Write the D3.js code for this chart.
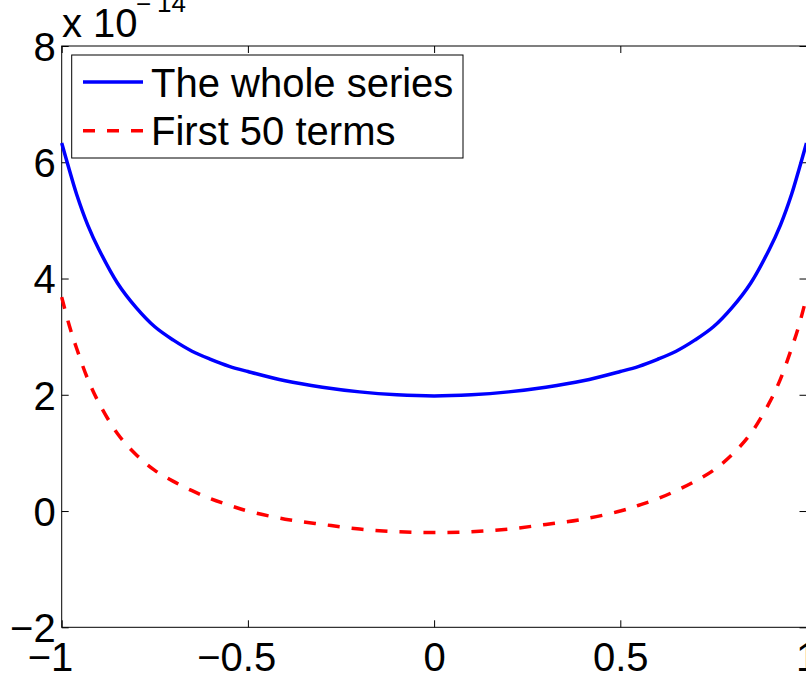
<!DOCTYPE html>
<html><head><meta charset="utf-8">
<script src="https://cdn.jsdelivr.net/npm/d3@7"></script>
<style>html,body{margin:0;padding:0;background:#fff;overflow:hidden}</style>
</head><body><svg id="c" width="806" height="674"></svg>
<script>
// values are in units of 10^-14
const xValues      = [-1, -0.98, -0.96, -0.93, -0.9, -0.85, -0.8, -0.75, -0.7, -0.65, -0.6, -0.55, -0.5, -0.4, -0.3, -0.2, -0.1, 0, 0.1, 0.2, 0.3, 0.4, 0.5, 0.55, 0.6, 0.65, 0.7, 0.75, 0.8, 0.85, 0.9, 0.93, 0.96, 0.98, 1];
const wholeSeries  = [6.33, 5.88, 5.45, 4.92, 4.50, 3.92, 3.50, 3.17, 2.94, 2.75, 2.61, 2.49, 2.40, 2.24, 2.13, 2.05, 2.00, 1.98, 2.00, 2.05, 2.13, 2.24, 2.40, 2.49, 2.61, 2.75, 2.94, 3.17, 3.50, 3.92, 4.50, 4.92, 5.45, 5.88, 6.33];
const first50Terms = [3.68, 3.20, 2.80, 2.27, 1.86, 1.33, 0.97, 0.70, 0.51, 0.35, 0.21, 0.10, 0.00, -0.14, -0.23, -0.31, -0.355, -0.37, -0.355, -0.31, -0.23, -0.14, 0.00, 0.10, 0.21, 0.35, 0.51, 0.70, 0.97, 1.33, 1.86, 2.27, 2.80, 3.20, 3.68];
const xTicks = [-1, -0.5, 0, 0.5, 1];
const yTicks = [-2, 0, 2, 4, 6, 8];
const yExponentLabel = ["−", "14"];
const seriesNames = ["The whole series", "First 50 terms"];
const seriesColors = ["#0000ff", "#ff0000"];

(function () {
const svg = d3.select("#c");
const font = "'Liberation Sans', Arial, Helvetica, sans-serif";
const pL = 61.7, pR = 806.5, pT = 46, pB = 627.3;
const x = d3.scaleLinear().domain([-1, 1]).range([pL, pR]);
const y = d3.scaleLinear().domain([-2, 8]).range([pB, pT]);
const fmt = d => d < 0 ? "−" + Math.abs(d) : String(d);

svg.append("rect").attr("x", pL).attr("y", pT).attr("width", pR - pL).attr("height", pB - pT)
  .attr("fill", "none").attr("stroke", "#000").attr("stroke-width", 1);

function styleAxis(g) {
  g.select(".domain").remove();
  g.selectAll(".tick line").attr("stroke", "#000").attr("stroke-width", 1);
  g.selectAll("text").attr("font-family", font).attr("font-size", 40).attr("fill", "#000");
}
const gB = svg.append("g").attr("transform", `translate(0,${pB})`)
  .call(d3.axisBottom(x).tickValues(xTicks).tickSize(-7).tickPadding(0).tickFormat(fmt)).call(styleAxis);
gB.selectAll("text").attr("dy", null).attr("y", 44);
const tmp = svg.append("text").attr("font-family", font).attr("font-size", 40);
gB.selectAll(".tick text").each(function (d) {
  if (d < 0) {
    tmp.text(String(Math.abs(d)));
    const w = tmp.node().getComputedTextLength();
    d3.select(this).attr("text-anchor", "end").attr("x", w / 2);
  }
});
tmp.remove();
svg.append("g").attr("transform", `translate(0,${pT})`)
  .call(d3.axisTop(x).tickValues(xTicks).tickSize(-7).tickFormat("")).call(styleAxis);
const gL = svg.append("g").attr("transform", `translate(${pL},0)`)
  .call(d3.axisLeft(y).tickValues(yTicks).tickSize(-7).tickPadding(0).tickFormat(fmt)).call(styleAxis);
gL.selectAll("text").attr("x", -6).attr("dy", "0.36em");
svg.append("g").attr("transform", `translate(${pR},0)`)
  .call(d3.axisRight(y).tickValues(yTicks).tickSize(-7).tickFormat("")).call(styleAxis);

// exponent label (mostly clipped at top, as in the original)
const ex = svg.append("text").attr("x", 62).attr("y", 36.5).attr("font-family", font).attr("font-size", 40).attr("fill", "#000");
ex.append("tspan").text("x 10");
ex.append("tspan").attr("x", 136).attr("y", 13).attr("font-size", 26).text(yExponentLabel[0]);
ex.append("tspan").attr("x", 157).attr("y", 12).attr("font-size", 26).text(yExponentLabel[1]);

// curves
const line = d3.line().x((d, i) => x(xValues[i])).y(d => y(d)).curve(d3.curveCatmullRom.alpha(0.5));
svg.append("path").datum(wholeSeries).attr("d", line).attr("fill", "none")
  .attr("stroke", seriesColors[0]).attr("stroke-width", 3.5);
svg.append("path").datum(first50Terms).attr("d", line).attr("fill", "none")
  .attr("stroke", seriesColors[1]).attr("stroke-width", 3.5).attr("stroke-dasharray", "12,12");

// legend
const lg = svg.append("g");
lg.append("rect").attr("x", 71.7).attr("y", 55).attr("width", 391.3).attr("height", 103)
  .attr("fill", "#fff").attr("stroke", "#000").attr("stroke-width", 1);
const rowsY = [82, 130.7];
seriesNames.forEach((name, i) => {
  lg.append("line").attr("x1", 83).attr("x2", 143).attr("y1", rowsY[i]).attr("y2", rowsY[i])
    .attr("stroke", seriesColors[i]).attr("stroke-width", 3.5)
    .attr("stroke-dasharray", i === 1 ? "12,12" : null);
  lg.append("text").attr("x", 151).attr("y", rowsY[i] + 14.5).attr("font-family", font).attr("font-size", 40)
    .attr("fill", "#000").text(name);
});
})();
</script></body></html>
